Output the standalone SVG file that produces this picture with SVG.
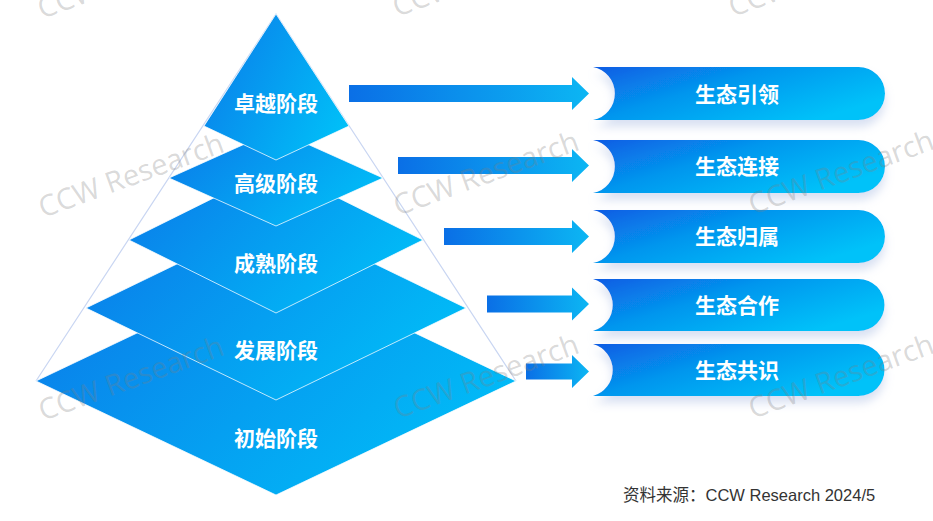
<svg xmlns="http://www.w3.org/2000/svg" width="933" height="521" viewBox="0 0 933 521">
<style>
.lyr{fill:url(#gLayer);stroke:#ffffff;stroke-opacity:0.75;stroke-width:1}
.lbl{font-family:"Noto Sans CJK SC","Noto Sans",sans-serif;font-weight:700;font-size:21px;fill:#ffffff;text-anchor:middle}
.pill{fill:url(#gPill);filter:url(#shadow)}
.arr{fill:url(#gArrow)}
.wm{font-family:"Open Sans","Noto Sans",sans-serif;font-size:29px;fill:#7f7f7f;fill-opacity:0.3}
.src{font-family:"Liberation Sans","Noto Sans CJK SC",sans-serif;font-size:16.5px;fill:#333333}
</style>
<defs>
<linearGradient id="gLayer" x1="0" y1="0.25" x2="1" y2="0.75">
<stop offset="0" stop-color="#0a7fea"/>
<stop offset="1" stop-color="#00c0f8"/>
</linearGradient>
<linearGradient id="gPill" x1="0" y1="0" x2="1" y2="0.6">
<stop offset="0" stop-color="#0a5ce4"/>
<stop offset="0.45" stop-color="#0596ee"/>
<stop offset="1" stop-color="#00c2f9"/>
</linearGradient>
<linearGradient id="gArrow" x1="0" y1="0" x2="1" y2="0">
<stop offset="0" stop-color="#0a6fe6"/>
<stop offset="1" stop-color="#0cb6f3"/>
</linearGradient>
<filter id="shadow" x="-10%" y="-30%" width="120%" height="170%">
<feDropShadow dx="0" dy="7" stdDeviation="5" flood-color="#9fb2e0" flood-opacity="0.4"/>
</filter>
</defs>
<rect width="933" height="521" fill="#ffffff"/>

<g id="pyramid-outline">
<polyline points="36,381 276,14 516,381" fill="none" stroke="#c9d6f2" stroke-width="1.2"/>
</g>

<g id="stage5">
<polygon class="lyr" points="276,267 516,381 276,495 36,381"/>
<text class="lbl" x="276" y="445.5">初始阶段</text>
</g>
<g id="stage4">
<polygon class="lyr" points="276,216 466,308 276,400 86,308"/>
<text class="lbl" x="276" y="357.5">发展阶段</text>
</g>
<g id="stage3">
<polygon class="lyr" points="276,167 423,240 276,313 129,240"/>
<text class="lbl" x="276" y="270.5">成熟阶段</text>
</g>
<g id="stage2">
<polygon class="lyr" points="276,130 383,178 276,226 169,178"/>
<text class="lbl" x="276" y="190.5">高级阶段</text>
</g>
<g id="stage1">
<polygon class="lyr" points="276,14 349,126 276,160 204,126"/>
<text class="lbl" x="276" y="110.5">卓越阶段</text>
</g>

<g id="connectors">
<polygon class="arr" points="349,85 572,85 572,77 589,93.5 572,110 572,102 349,102"/>
<polygon class="arr" points="398,157 572,157 572,149 589,165.5 572,182 572,174 398,174"/>
<polygon class="arr" points="444,228 572,228 572,220 589,236.5 572,253 572,245 444,245"/>
<polygon class="arr" points="487,295.5 572,295.5 572,287.5 589,304 572,320.5 572,312.5 487,312.5"/>
<polygon class="arr" points="526,363.5 572,363.5 572,355 589,371.5 572,388 572,379.5 526,379.5"/>
</g>

<g id="eco1">
<path class="pill" d="M593,67 L858.5,67 A26.5,26.5 0 0 1 858.5,120 L593,120 A27,27 0 0 0 593,67 Z"/>
<text class="lbl" x="737" y="101.5">生态引领</text>
</g>
<g id="eco2">
<path class="pill" d="M593,140 L858.5,140 A26.5,26.5 0 0 1 858.5,193 L593,193 A27,27 0 0 0 593,140 Z"/>
<text class="lbl" x="737" y="174">生态连接</text>
</g>
<g id="eco3">
<path class="pill" d="M593,210 L858.5,210 A26.5,26.5 0 0 1 858.5,263 L593,263 A27,27 0 0 0 593,210 Z"/>
<text class="lbl" x="737" y="244">生态归属</text>
</g>
<g id="eco4">
<path class="pill" d="M593,279 L858.5,279 A26,26 0 0 1 858.5,331 L593,331 A27,27 0 0 0 593,279 Z"/>
<text class="lbl" x="737" y="312.5">生态合作</text>
</g>
<g id="eco5">
<path class="pill" d="M593,344 L858.5,344 A26,26 0 0 1 858.5,396 L593,396 A27,27 0 0 0 593,344 Z"/>
<text class="lbl" x="737" y="377.5">生态共识</text>
</g>

<g id="source">
<text class="src" x="623" y="501">资料来源：CCW Research 2024/5</text>
</g>

<g id="watermarks">
<text class="wm" x="42" y="19" transform="rotate(-20 42 19)">CCW Research</text>
<text class="wm" x="397" y="17" transform="rotate(-20 397 17)">CCW Research</text>
<text class="wm" x="733" y="17" transform="rotate(-20 733 17)">CCW Research</text>
<text class="wm" x="43" y="218" transform="rotate(-20 43 218)">CCW Research</text>
<text class="wm" x="398" y="216" transform="rotate(-20 398 216)">CCW Research</text>
<text class="wm" x="753" y="215" transform="rotate(-20 753 215)">CCW Research</text>
<text class="wm" x="43" y="421" transform="rotate(-20 43 421)">CCW Research</text>
<text class="wm" x="398" y="419" transform="rotate(-20 398 419)">CCW Research</text>
<text class="wm" x="753" y="419" transform="rotate(-20 753 419)">CCW Research</text>
</g>
</svg>
